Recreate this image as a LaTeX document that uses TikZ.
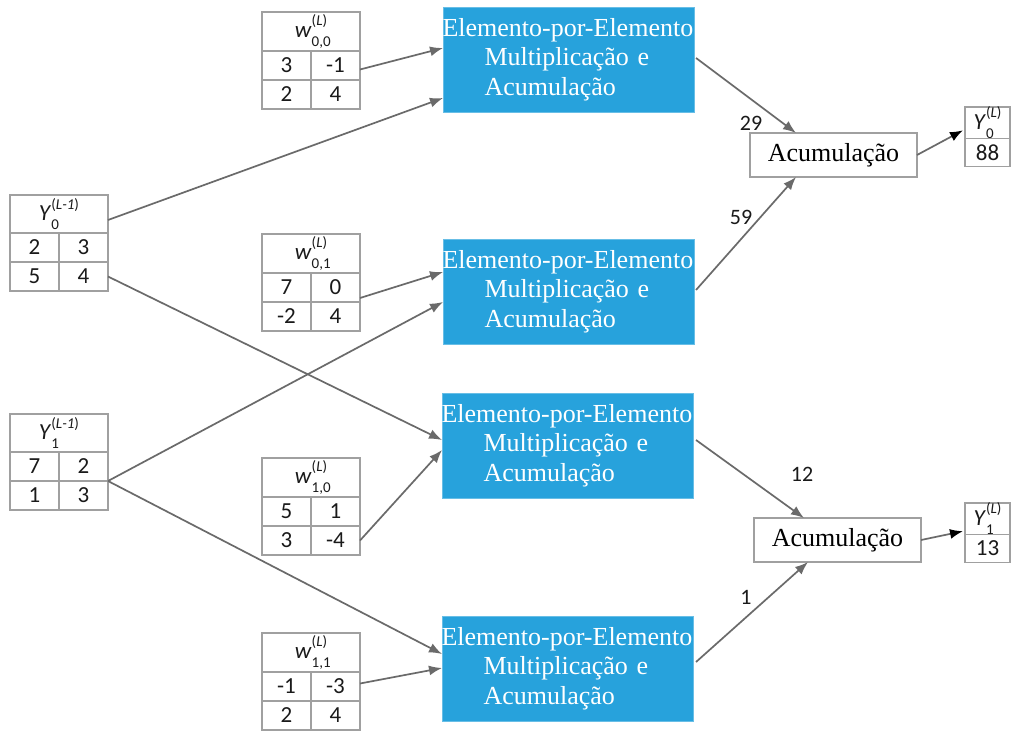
\documentclass[tikz,border=0pt]{standalone}
\usepackage{fontspec}
\setmainfont{Liberation Serif}
\newfontfamily\calfont{Carlito}
\usetikzlibrary{arrows.meta,calc}
\definecolor{boxblue}{HTML}{27A2DC}
\definecolor{tblline}{HTML}{A0A0A0}
\definecolor{arr}{HTML}{6A6A6A}
\definecolor{txt}{HTML}{1A1A1A}
\newcommand\hsym[3]{\textit{#1}\makebox[0pt][l]{\raisebox{-0.38em}{\fontsize{15}{15}\selectfont#2}}\raisebox{0.5em}{\fontsize{15}{15}\selectfont(\textit{#3})}}
\newcommand\tbl[9]{%
 \node[hcell,minimum height=#4,anchor=north west] (#1h) at (#2,#3) {\raisebox{-2pt}{#5}};
 \node[cell,anchor=north west] (#1a) at (#1h.south west) {#6};
 \node[cell,anchor=north west] (#1b) at (#1a.north east) {#7};
 \node[cell,anchor=north west] (#1c) at (#1a.south west) {#8};
 \node[cell,anchor=north west] (#1d) at (#1c.north east) {#9};}
\newcommand\otbl[5]{%
 \node[hcell,minimum width=45,minimum height=29,anchor=north west] (#1h) at (#2,#3) {#4};
 \node[cell,minimum width=45,minimum height=28,anchor=north west] (#1a) at (#1h.south west) {#5};}
\tikzset{
 cell/.style={draw=tblline,line width=1.2pt,minimum width=49,minimum height=29,inner sep=0,outer sep=0,text=txt,font=\calfont\fontsize{23}{23}\selectfont},
 hcell/.style={draw=tblline,line width=1.2pt,minimum width=98,inner sep=0,outer sep=0,text=txt,font=\calfont\fontsize{23}{23}\selectfont},
 ebox/.style={fill=boxblue,draw=boxblue!70!white,line width=0.8pt,minimum width=251,minimum height=105,text width=168,inner sep=0,outer sep=0,anchor=north west,align=left,text=white,font=\fontsize{26}{29.5}\selectfont},
 accbox/.style={draw=tblline,line width=1.5pt,fill=white,minimum width=167,minimum height=44,inner sep=0,outer sep=0,anchor=north west,font=\fontsize{26}{26}\selectfont},
 conn/.style={draw=arr,line width=1.7pt,-{Latex[length=13pt,width=10pt]}},
 oconn/.style={draw=arr,line width=1.7pt,-{Latex[length=13pt,width=10pt,color=black]}},
 num/.style={text=txt,font=\calfont\fontsize{22}{22}\selectfont,inner sep=0},
}
\newcommand\etext{\makebox[0pt][l]{\hspace{-42pt}Elemento-por-Elemento}\\Multiplicação e\\Acumulação}
\begin{document}
\begin{tikzpicture}[x=1pt,y=-1pt]
\clip (0,0) rectangle (1011,731);
\fill[white] (0,0) rectangle (1011,731);
% blue boxes
\node[ebox] (b1) at (443,7) {\etext};
\node[ebox] (b2) at (443,239) {\etext};
\node[ebox] (b3) at (442,393) {\etext};
\node[ebox] (b4) at (442,616) {\etext};
% accumulation boxes
\node[accbox] (acc1) at (750,133) {Acumulação};
\node[accbox] (acc2) at (754,518) {Acumulação};
% tables
\tbl{w00}{262}{12}{39}{\hsym{w}{0,0}{L}}{3}{-1}{2}{4}
\tbl{w01}{262}{234}{39}{\hsym{w}{0,1}{L}}{7}{0}{-2}{4}
\tbl{w10}{262}{458}{39}{\hsym{w}{1,0}{L}}{5}{1}{3}{-4}
\tbl{w11}{262}{633}{39}{\hsym{w}{1,1}{L}}{-1}{-3}{2}{4}
\tbl{y0}{10}{195}{38}{\hsym{Y}{0}{L-1}}{2}{3}{5}{4}
\tbl{y1}{10}{414}{38}{\hsym{Y}{1}{L-1}}{7}{2}{1}{3}
\otbl{o0}{965}{107}{\hsym{Y}{0}{L}}{88}
\otbl{o1}{965}{503}{\hsym{Y}{1}{L}}{13}
% connectors into blue boxes
\draw[conn] ($(w00b.east)+(0,4)$) -- ($(b1.north west)+(0,41)$);
\draw[conn] ($(y0h.east)+(0,6)$) -- ($(b1.north west)+(0,91)$);
\draw[conn] ($(w01b.south east)+(0,-4)$) -- ($(b2.north west)+(0,33)$);
\draw[conn] (y1b.south east) -- ($(b2.north west)+(0,63)$);
\draw[conn] (y0d.east) -- ($(b3.north west)+(0,47)$);
\draw[conn] (w10d.east) -- ($(b3.north west)+(0,57)$);
\draw[conn] (y1b.south east) -- ($(b4.north west)+(0,38)$);
\draw[conn] ($(w11b.east)+(0,-3)$) -- ($(b4.north west)+(0,52)$);
% connectors into accumulation
\draw[conn] ($(b1.north east)+(2,51)$) -- ($(acc1.north west)+(46,0)$);
\draw[conn] ($(b2.north east)+(2,51)$) -- ($(acc1.south west)+(46,0)$);
\draw[conn] ($(b3.north east)+(3,47)$) -- ($(acc2.north west)+(50,0)$);
\draw[conn] ($(b4.north east)+(3,46)$) -- ($(acc2.south west)+(54,0)$);
% outputs
\draw[oconn] (acc1.east) -- ($(o0h.south west)+(-2,-8)$);
\draw[oconn] (acc2.east) -- ($(o1h.south west)+(-2,-3)$);
% labels
\node[num] (l29) at (751,123) {29};
\node[num] (l59) at (741,217) {59};
\node[num] (l12) at (802,474) {12};
\node[num] (l1) at (746,597) {1};
\end{tikzpicture}
\end{document}
